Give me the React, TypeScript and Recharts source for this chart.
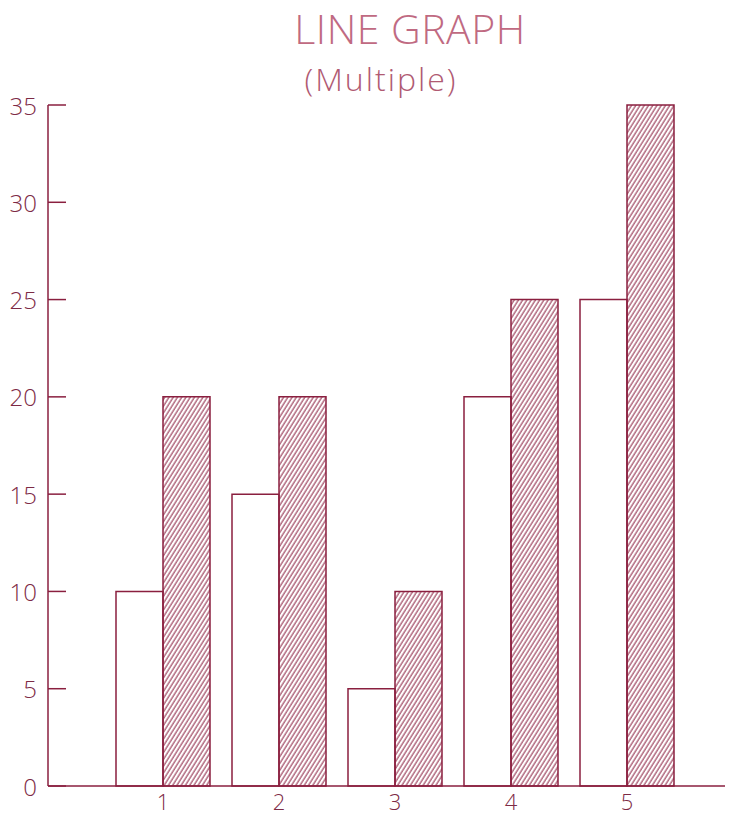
import { Bar, BarChart, XAxis, YAxis } from "recharts";

const categories = ["1", "2", "3", "4", "5"];
const plainValues = [10, 15, 5, 20, 25];
const hatchedValues = [20, 20, 10, 25, 35];
const yTicks = [0, 5, 10, 15, 20, 25, 30, 35];

const data = categories.map((name, i) => ({
  name,
  plain: plainValues[i],
  hatched: hatchedValues[i],
}));

const ink = "#8a1f3f";
const textInk = "#7d2a45";
const font = "'Open Sans', 'DejaVu Sans', sans-serif";

function YTick({ x, y, payload }: any) {
  return (
    <g>
      <line x1={x} y1={y} x2={x + 18} y2={y} stroke={ink} strokeWidth={1.5} />
      <text
        x={x - 11}
        y={y}
        textAnchor="end"
        dominantBaseline="central"
        fill={textInk}
        fontSize={24}
        fontFamily={font}
        fontWeight={300}
      >
        {payload.value}
      </text>
    </g>
  );
}

function XTick({ x, y, payload }: any) {
  return (
    <text
      x={x}
      y={y + 15}
      textAnchor="middle"
      dominantBaseline="central"
      fill={textInk}
      fontSize={22}
      fontFamily={font}
      fontWeight={300}
    >
      {payload.value}
    </text>
  );
}

export default function App() {
  return (
    <div style={{ position: "absolute", left: 0, top: 0, width: 732, height: 815, background: "#fff" }}>
      <svg width={732} height={100} style={{ position: "absolute", left: 0, top: 0 }}>
        <text
          x={410}
          y={44}
          textAnchor="middle"
          fontFamily={font}
          fontWeight={300}
          fontSize={41}
          letterSpacing={0.5}
          fill="#c06a82"
        >
          LINE GRAPH
        </text>
        <text
          x={381}
          y={91}
          textAnchor="middle"
          fontFamily={font}
          fontWeight={300}
          fontSize={32}
          letterSpacing={2}
          fill="#b05a72"
        >
          (Multiple)
        </text>
      </svg>
      <BarChart
        width={732}
        height={815}
        data={data}
        margin={{ top: 105, right: 7, bottom: 0, left: 0 }}
        barCategoryGap={11}
        barGap={0}
      >
        <defs>
          <pattern
            id="hatch"
            width={3.6}
            height={10}
            patternUnits="userSpaceOnUse"
            patternTransform="rotate(32)"
          >
            <line x1={1} y1={0} x2={1} y2={10} stroke={ink} strokeWidth={1} />
          </pattern>
        </defs>
        <XAxis
          dataKey="name"
          height={29}
          padding={{ left: 57, right: 40 }}
          axisLine={{ stroke: ink, strokeWidth: 1.5 }}
          tickLine={false}
          tick={<XTick />}
          tickSize={0}
          tickMargin={0}
        />
        <YAxis
          domain={[0, 35]}
          ticks={yTicks}
          width={48}
          axisLine={{ stroke: ink, strokeWidth: 1.5 }}
          tickLine={false}
          tickSize={0}
          tickMargin={0}
          tick={<YTick />}
          interval={0}
        />
        <Bar dataKey="plain" fill="#fff" stroke={ink} strokeWidth={1.5} isAnimationActive={false} />
        <Bar dataKey="hatched" fill="url(#hatch)" stroke={ink} strokeWidth={1.5} isAnimationActive={false} />
      </BarChart>
    </div>
  );
}
